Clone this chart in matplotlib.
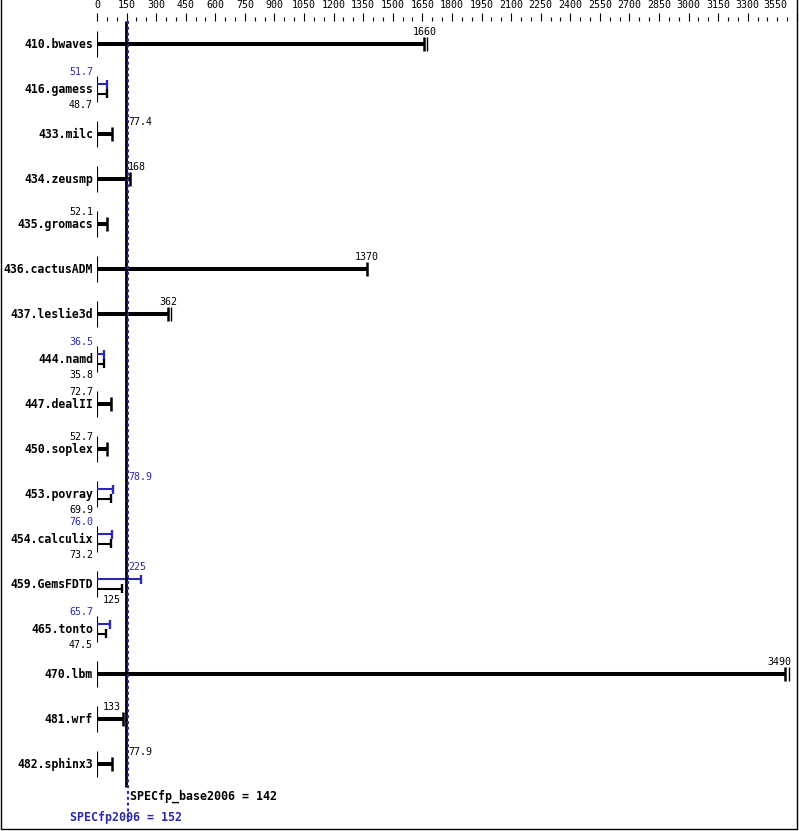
import matplotlib
matplotlib.use("Agg")
import matplotlib.pyplot as plt
from matplotlib.ticker import MultipleLocator
from matplotlib.lines import Line2D

# benchmark names, base ratio (black) and peak ratio (blue, None = no peak run)
benchmarks = ['410.bwaves', '416.gamess', '433.milc', '434.zeusmp', '435.gromacs',
              '436.cactusADM', '437.leslie3d', '444.namd', '447.dealII', '450.soplex',
              '453.povray', '454.calculix', '459.GemsFDTD', '465.tonto', '470.lbm',
              '481.wrf', '482.sphinx3']
base = [1660, 48.7, 77.4, 168, 52.1, 1370, 362, 35.8, 72.7, 52.7,
        69.9, 73.2, 125, 47.5, 3490, 133, 77.9]
peak = [None, 51.7, None, None, None, None, None, 36.5, None, None,
        78.9, 76.0, 225, 65.7, None, None, None]
# second run mark drawn next to the end cap on some bars
extra_run = {0: 1676, 6: 377, 14: 3508}

spec_base = 142
spec_peak = 152
x_ticks = list(range(0, 3301, 150))
x_max = 3550

# where each value label sits: c=centered on bar end, r=right of the score lines,
# l=left of the axis, a=just right of the axis
base_pos = ['c', 'l', 'r', 'r', 'l', 'c', 'c', 'l', 'l', 'l', 'l', 'l', 'a', 'l', 'c', 'a', 'r']
peak_pos = [None, 'l', None, None, None, None, None, 'l', None, None, 'r', 'l', 'r', 'l', None, None, None]

BLUE = '#2a2ab0'
MONO = 'DejaVu Sans Mono'

W, H, DPI = 799, 831, 100
fig = plt.figure(figsize=(W / DPI, H / DPI), dpi=DPI)

# axes in pixel terms: x from 97 to 797, y from 21 down to the bottom edge
left_px, right_px, top_px = 97, 797, 21
ax = fig.add_axes([left_px / W, 0, (right_px - left_px) / W, (H - top_px) / H])
row0, step = 44, 45
ax.set_xlim(0, x_max)
ax.set_ylim((H - row0) / step, (top_px - row0) / step)
for s in ax.spines.values():
    s.set_visible(False)
ax.set_yticks([])
ax.xaxis.tick_top()
ax.set_xticks(x_ticks + [x_max])
ax.set_xticklabels([str(t) for t in x_ticks] + [''])
ax.xaxis.set_minor_locator(MultipleLocator(50))
ax.tick_params(axis='x', which='major', length=5.8, width=0.8, pad=2, labelsize=7.2)
ax.tick_params(axis='x', which='minor', length=2.9, width=0.8)
for lab in ax.get_xticklabels():
    lab.set_family(MONO)
ax.annotate(str(x_max), xy=(x_max, 1), xycoords=('data', 'axes fraction'),
            xytext=(-7, 7.8), textcoords='offset points', ha='right', va='bottom',
            fontsize=7.2, family=MONO)

px = x_max / (right_px - left_px)  # data units per pixel


def put_label(i, val, pos, dy, color):
    if pos == 'c':
        x, ha = min(val, x_max - 18 * px), 'center'
    elif pos == 'r':
        x, ha = 157, 'left'
    elif pos == 'l':
        x, ha = -4 * px, 'right'
    else:
        x, ha = 30, 'left'
    ax.text(x, i + dy, f'{val:g}' if val >= 100 else f'{val:.1f}', ha=ha, va='center',
            fontsize=7.2, family=MONO, color=color, clip_on=False)


for i, name in enumerate(benchmarks):
    ax.text(-4 * px, i, name, ha='right', va='center', fontsize=8.3,
            family=MONO, fontweight='bold', clip_on=False)
    ax.plot([0, 0], [i - 0.29, i + 0.29], color='black', lw=0.8, solid_capstyle='butt')
    if peak[i] is None:
        ax.plot([0, base[i]], [i, i], color='black', lw=2.9, solid_capstyle='butt')
        ax.plot([base[i], base[i]], [i - 0.16, i + 0.16], color='black', lw=1.8,
                solid_capstyle='butt')
        if i in extra_run:
            ax.plot([extra_run[i]] * 2, [i - 0.16, i + 0.16], color='black', lw=1.0,
                    solid_capstyle='butt')
        put_label(i, base[i], base_pos[i], -0.27, 'black')
    else:
        yp, yb = i - 0.11, i + 0.11
        ax.plot([0, peak[i]], [yp, yp], color=BLUE, lw=1.5, solid_capstyle='butt')
        ax.plot([peak[i]] * 2, [yp - 0.1, yp + 0.1], color=BLUE, lw=1.7, solid_capstyle='butt')
        ax.plot([0, base[i]], [yb, yb], color='black', lw=1.5, solid_capstyle='butt')
        ax.plot([base[i]] * 2, [yb - 0.1, yb + 0.1], color='black', lw=1.7,
                solid_capstyle='butt')
        put_label(i, peak[i], peak_pos[i], -0.38, BLUE)
        put_label(i, base[i], base_pos[i], 0.36, 'black')

# overall score lines (drawn from their left pixel edge, like the original)
ax.plot([spec_base + 1.2 * px] * 2, [(top_px - row0) / step, (787 - row0) / step],
        color='black', lw=2.0, solid_capstyle='butt', clip_on=False)
ax.plot([spec_peak + 1.3 * px] * 2, [(top_px - row0) / step, (822 - row0) / step],
        color=BLUE, lw=1.5, linestyle=(0, (1.4, 1.4)), clip_on=False)
ax.text(spec_base + 5 * px, (796 - row0) / step, f'SPECfp_base2006 = {spec_base}',
        ha='left', va='center', fontsize=8.4, family=MONO, fontweight='bold')
ax.text(spec_peak - 1 * px, (817 - row0) / step, f'SPECfp2006 = {spec_peak}',
        ha='center', va='center', fontsize=8.4, family=MONO, fontweight='bold', color=BLUE)

# border on left, bottom and right only
x0, x1, y0 = 0.6 / W, (W - 1.6) / W, 1.6 / H
fig.lines.append(Line2D([x0, x0, x1, x1], [1, y0, y0, 1], transform=fig.transFigure,
                        color='black', lw=1.0))

fig.savefig('out.png', dpi=DPI)
